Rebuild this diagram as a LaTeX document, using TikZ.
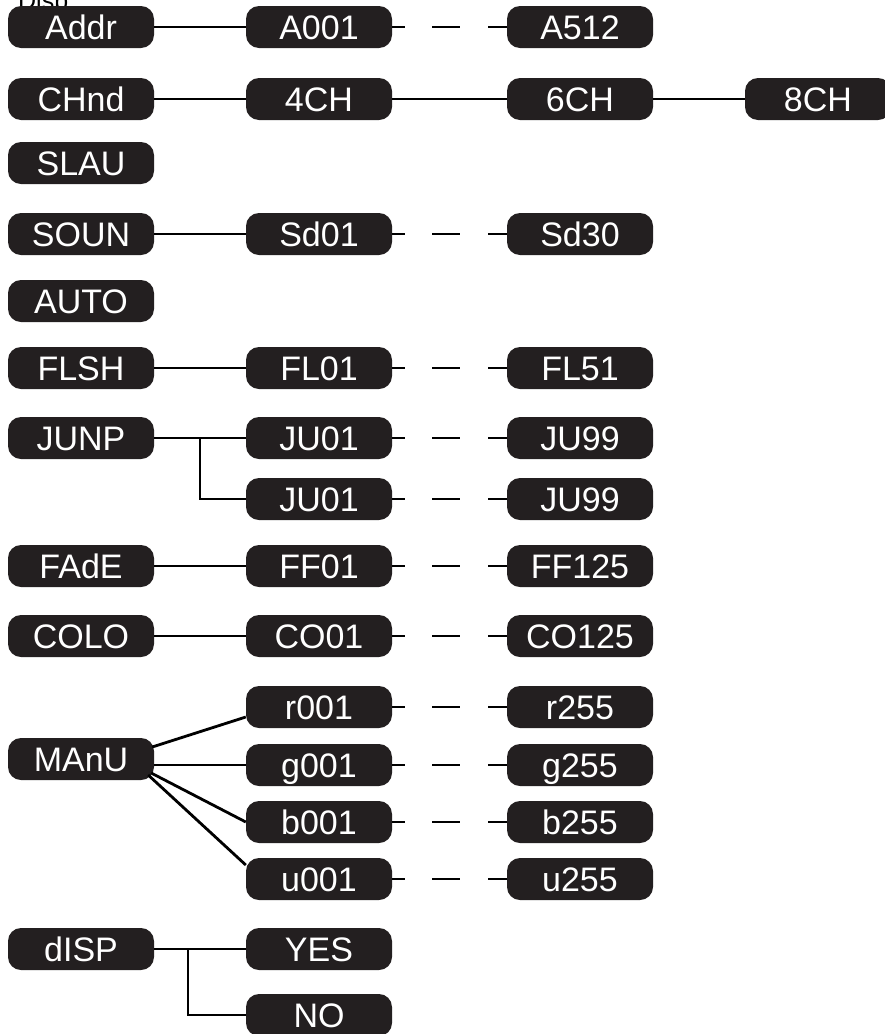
\documentclass[tikz,border=0pt]{standalone}
\usepackage{fontspec}
\setmainfont{Liberation Sans}
\usetikzlibrary{calc}
\definecolor{boxc}{HTML}{231F20}
\begin{document}
\begin{tikzpicture}[x=1pt,y=-1pt,
  bx/.style={fill=boxc, text=white, rounded corners=13pt, minimum width=146pt,
    minimum height=42pt, inner sep=0pt, text height=24pt, text depth=0pt,
    font=\fontsize{34}{36}\selectfont},
  ln/.style={line width=2.8pt, black},
  dl/.style={line width=2.8pt, black, dash pattern=on 13pt off 27pt on 28pt off 28pt on 19pt}]
\useasboundingbox (0,0) rectangle (884,1034);
\node[anchor=base west, inner sep=0pt, font=\fontsize{25}{25}\selectfont] (title) at (18,9) {Disp};
% column 1
\node[bx] (addr) at (81,27) {Addr};
\node[bx] (chnd) at (81,99) {CHnd};
\node[bx] (slau) at (81,163) {SLAU};
\node[bx] (soun) at (81,234) {SOUN};
\node[bx] (auto) at (81,301) {AUTO};
\node[bx] (flsh) at (81,368) {FLSH};
\node[bx] (junp) at (81,438) {JUNP};
\node[bx] (fade) at (81,566) {FAdE};
\node[bx] (colo) at (81,636) {COLO};
\node[bx] (manu) at (81,759) {MAnU};
\node[bx] (disp) at (81,949) {dISP};
% column 2
\node[bx] (a001) at (319,27) {A001};
\node[bx] (ch4) at (319,99) {4CH};
\node[bx] (sd01) at (319,234) {Sd01};
\node[bx] (fl01) at (319,368) {FL01};
\node[bx] (ju01a) at (319,438) {JU01};
\node[bx] (ju01b) at (319,499) {JU01};
\node[bx] (ff01) at (319,566) {FF01};
\node[bx] (co01) at (319,636) {CO01};
\node[bx] (r001) at (319,707) {r001};
\node[bx] (g001) at (319,765) {g001};
\node[bx] (b001) at (319,822) {b001};
\node[bx] (u001) at (319,879) {u001};
\node[bx] (yes) at (319,949) {YES};
\node[bx] (no) at (319,1015) {NO};
% column 3
\node[bx] (a512) at (580,27) {A512};
\node[bx] (ch6) at (580,99) {6CH};
\node[bx] (sd30) at (580,234) {Sd30};
\node[bx] (fl51) at (580,368) {FL51};
\node[bx] (ju99a) at (580,438) {JU99};
\node[bx] (ju99b) at (580,499) {JU99};
\node[bx] (ff125) at (580,566) {FF125};
\node[bx] (co125) at (580,636) {CO125};
\node[bx] (r255) at (580,707) {r255};
\node[bx] (g255) at (580,765) {g255};
\node[bx] (b255) at (580,822) {b255};
\node[bx] (u255) at (580,879) {u255};
% column 4
\node[bx] (ch8) at (818,99) {8CH};
% connectors
\draw[ln] (addr) -- (a001);
\draw[dl] (a001) -- (a512);
\draw[ln] (chnd) -- (ch4);
\draw[ln] (ch4) -- (ch6);
\draw[ln] (ch6) -- (ch8);
\draw[ln] (soun) -- (sd01);
\draw[dl] (sd01) -- (sd30);
\draw[ln] (flsh) -- (fl01);
\draw[dl] (fl01) -- (fl51);
\draw[ln] (junp) -- (ju01a);
\draw[ln] ($(junp.east)!0.5!(ju01a.west)$) |- (ju01b.west);
\draw[dl] (ju01a) -- (ju99a);
\draw[dl] (ju01b) -- (ju99b);
\draw[ln] (fade) -- (ff01);
\draw[dl] (ff01) -- (ff125);
\draw[ln] (colo) -- (co01);
\draw[dl] (co01) -- (co125);
\draw[ln] ($(manu.east)+(-2,-12)$) -- ($(r001.west)+(0,10)$);
\draw[ln] (manu.east |- g001.west) -- (g001.west);
\draw[ln] ($(manu.east)+(-3,14)$) -- (b001.west);
\draw[ln] ($(manu.east)+(-6,16)$) -- ($(u001.west)+(0,-14)$);
\draw[dl] (r001) -- (r255);
\draw[dl] (g001) -- (g255);
\draw[dl] (b001) -- (b255);
\draw[dl] (u001) -- (u255);
\draw[ln] (disp) -- (yes);
\draw[ln] ($(disp.east)!0.37!(yes.west)$) |- (no.west);
\end{tikzpicture}
\end{document}
